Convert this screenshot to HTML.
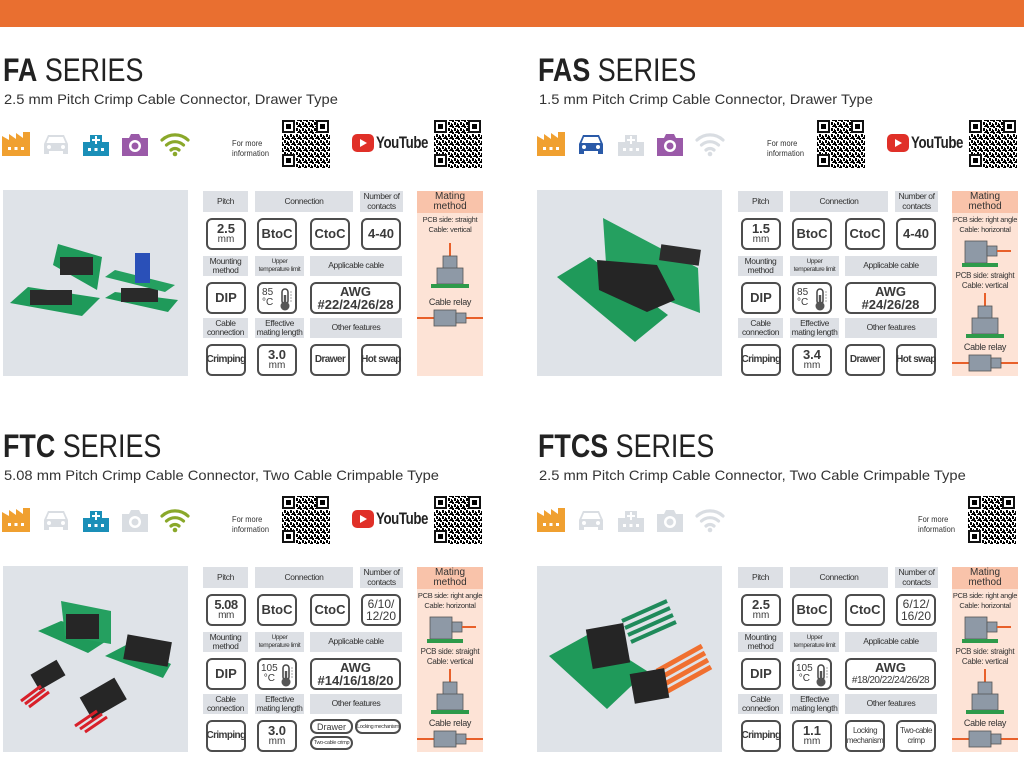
<!DOCTYPE html>
<html><head><meta charset="utf-8">
<style>
*{margin:0;padding:0}
body{width:1024px;height:753px;position:relative;background:#fff;font-family:"Liberation Sans",sans-serif;color:#333;overflow:hidden}
.bar{position:absolute;left:0;top:0;width:1024px;height:27px;background:#e96f30}
.p{position:absolute;width:490px;height:376px}
.a{position:absolute}
.t{position:absolute;left:3px;top:52px;font-size:32px;color:#222;white-space:nowrap;transform:scaleX(.84);transform-origin:left}
.t b{font-weight:bold}
.s{position:absolute;left:4px;top:91px;font-size:14px;color:#333;white-space:nowrap;transform:scaleX(1.05);transform-origin:left}
.ic{position:absolute;top:130px;width:30px;height:28px}
.fm{position:absolute;font-size:8.5px;line-height:10px;color:#333;transform:scaleX(.88);transform-origin:left}
.qr{position:absolute;width:48px;height:48px}
.img{position:absolute;left:3px;top:190px;width:185px;height:186px;background:#dfe3e8}
.h{position:absolute;background:#dde0e5;display:flex;align-items:center;justify-content:center;text-align:center;font-size:8.5px;line-height:9.5px;color:#333;letter-spacing:-0.4px;white-space:nowrap}
.v{position:absolute;border:2px solid #4d4d4d;border-radius:6px;box-sizing:border-box;display:flex;flex-direction:column;align-items:center;justify-content:center;text-align:center;font-weight:bold;font-size:13px;line-height:12px;color:#3a3a3a;background:#fff;white-space:nowrap}
.v small{font-size:10px;font-weight:normal;line-height:10px}
.cn{font-size:10px!important;letter-spacing:-0.6px}
.m{position:absolute;left:417px;top:191px;width:66px;height:185px;background:#fde3d6}
.mh{position:absolute;left:0;top:0;width:66px;height:22px;background:#f9c3aa;font-size:10px;line-height:10px;text-align:center;padding-top:1px;box-sizing:border-box}
.mt{position:absolute;left:0;width:66px;text-align:center;font-size:7.5px;line-height:10px;letter-spacing:-0.3px;white-space:nowrap}
.th{font-weight:normal!important;font-size:10px!important;align-items:flex-start!important;padding-left:3px;line-height:10px!important}
</style></head><body>
<svg width="0" height="0" style="position:absolute">
<defs>
<symbol id="fac" viewBox="0 0 30 28"><path d="M1 26V6l7 4V4l7 5V3l7 5V2h7v24z" fill="currentColor"/><rect x="7" y="17" width="3" height="3" fill="#fff"/><rect x="13.5" y="17" width="3" height="3" fill="#fff"/><rect x="20" y="17" width="3" height="3" fill="#fff"/></symbol>
<symbol id="car" viewBox="0 0 30 28"><path d="M3 14l4-9h16l4 9v10h-5v-3H8v3H3z" fill="currentColor"/><path d="M8 7h14l2.5 6h-19z" fill="#fff"/><circle cx="8" cy="17" r="2" fill="#fff"/><circle cx="22" cy="17" r="2" fill="#fff"/></symbol>
<symbol id="hos" viewBox="0 0 30 28"><path d="M2 26V12h7V5h12v7h7v14z" fill="currentColor"/><path d="M14 6h2v3h3v2h-3v3h-2v-3h-3V9h3z" fill="#fff"/><rect x="7" y="18" width="3" height="3" fill="#fff"/><rect x="13.5" y="18" width="3" height="3" fill="#fff"/><rect x="20" y="18" width="3" height="3" fill="#fff"/></symbol>
<symbol id="cam" viewBox="0 0 30 28"><path d="M2 8h7l2-4h8l2 4h7v18H2z" fill="currentColor"/><circle cx="15" cy="16" r="6" fill="#fff"/><circle cx="15" cy="16" r="3.5" fill="currentColor"/></symbol>
<symbol id="wif" viewBox="0 0 30 28"><g fill="none" stroke="currentColor" stroke-width="3.2" stroke-linecap="round"><path d="M2 10a19 19 0 0 1 26 0"/><path d="M6.5 15a12.5 12.5 0 0 1 17 0"/><path d="M11 20a6 6 0 0 1 8 0"/></g><circle cx="15" cy="24" r="2.3" fill="currentColor"/></symbol>
<pattern id="qp" width="6" height="6" patternUnits="userSpaceOnUse"><rect width="6" height="6" fill="#fff"/><rect x="0" y="0" width="2" height="2"/><rect x="3" y="0" width="3" height="1"/><rect x="2" y="2" width="2" height="3"/><rect x="5" y="3" width="1" height="2"/><rect x="0" y="4" width="1" height="2"/><rect x="4" y="5" width="2" height="1"/></pattern>
<symbol id="qr" viewBox="0 0 48 48"><rect width="48" height="48" fill="url(#qp)"/><g fill="#fff"><rect x="0" y="0" width="14" height="14"/><rect x="34" y="0" width="14" height="14"/><rect x="0" y="34" width="14" height="14"/></g><g fill="none" stroke="#111" stroke-width="2"><rect x="1" y="1" width="11" height="11"/><rect x="35" y="1" width="11" height="11"/><rect x="1" y="35" width="11" height="11"/></g><rect x="4" y="4" width="5" height="5"/><rect x="38" y="4" width="5" height="5"/><rect x="4" y="38" width="5" height="5"/></symbol>
<symbol id="therm" viewBox="0 0 14 24"><rect x="3" y="1" width="6" height="15" rx="3" fill="none" stroke="#444" stroke-width="1.5"/><circle cx="6" cy="18" r="4.5" fill="#555"/><rect x="4.8" y="7" width="2.4" height="10" fill="#555"/><path d="M11 4h2M11 7h2M11 10h2M11 13h2" stroke="#888" stroke-width="0.8"/></symbol>
<symbol id="ms" viewBox="0 0 66 52"><path d="M33 0v14" stroke="#e8602a" stroke-width="2"/><rect x="26" y="13" width="14" height="13" fill="#8e99a6" stroke="#555" stroke-width="0.8"/><rect x="20" y="25" width="26" height="16" fill="#8e99a6" stroke="#555" stroke-width="0.8"/><rect x="14" y="41" width="38" height="4" fill="#2e9a4a"/></symbol>
<symbol id="mr" viewBox="0 0 66 34"><rect x="13" y="4" width="22" height="22" fill="#8e99a6" stroke="#555" stroke-width="0.8"/><rect x="35" y="9" width="10" height="10" fill="#8e99a6" stroke="#555" stroke-width="0.8"/><path d="M45 14h14" stroke="#e8602a" stroke-width="2"/><rect x="10" y="26" width="36" height="4" fill="#2e9a4a"/></symbol>
<symbol id="mc" viewBox="0 0 66 18"><path d="M0 9h66" stroke="#e8602a" stroke-width="2"/><rect x="17" y="1" width="22" height="16" fill="#8e99a6" stroke="#555" stroke-width="0.8"/><rect x="39" y="4" width="10" height="10" fill="#8e99a6" stroke="#555" stroke-width="0.8"/></symbol>
</defs></svg>

<div class="bar"></div>

<!-- ================= FA ================= -->
<div class="p" style="left:0;top:0">
<div class="t"><b>FA</b> SERIES</div>
<div class="s">2.5 mm Pitch Crimp Cable Connector, Drawer Type</div>
<svg class="ic" style="left:1px;color:#f0a030"><use href="#fac"/></svg>
<svg class="ic" style="left:41px;color:#d9dde2"><use href="#car"/></svg>
<svg class="ic" style="left:81px;color:#1a8fb8"><use href="#hos"/></svg>
<svg class="ic" style="left:120px;color:#9a5aa8"><use href="#cam"/></svg>
<svg class="ic" style="left:160px;color:#8aa82a"><use href="#wif"/></svg>
<div class="fm" style="left:232px;top:138px">For more<br>information</div>
<svg class="qr" style="left:282px;top:120px"><use href="#qr"/></svg>
<div class="a" style="left:352px;top:134px;width:22px;height:18px;background:#e03028;border-radius:5px"></div>
<div class="a" style="left:360px;top:139px;width:0;height:0;border-left:7px solid #fff;border-top:4px solid transparent;border-bottom:4px solid transparent"></div>
<div class="a" style="left:376px;top:133px;font-size:17px;font-weight:bold;color:#222;transform:scaleX(.78);transform-origin:left;letter-spacing:-0.5px">YouTube</div>
<svg class="qr" style="left:434px;top:120px"><use href="#qr"/></svg>
<div class="img"><svg width="185" height="186">
<polygon points="7,113 25,97 97,108 79,126" fill="#1f9a5a"/><rect x="27" y="100" width="42" height="15" fill="#2a2a2a"/>
<polygon points="50,75 55,54 99,67 94,100" fill="#1f9a5a"/><rect x="57" y="67" width="33" height="18" fill="#2a2a2a"/>
<polygon points="102,108 112,102 175,110 165,122" fill="#1f9a5a"/><rect x="118" y="98" width="37" height="14" fill="#2a2a2a"/>
<polygon points="102,87 112,80 172,95 162,102" fill="#25a060"/><rect x="132" y="63" width="15" height="30" fill="#2a50b8"/>
</svg></div>
<div class="h" style="left:203px;top:191px;width:45px;height:21px">Pitch</div>
<div class="h" style="left:255px;top:191px;width:98px;height:21px">Connection</div>
<div class="h" style="left:360px;top:191px;width:43px;height:21px">Number of<br>contacts</div>
<div class="v" style="left:206px;top:218px;width:40px;height:32px">2.5<small>mm</small></div>
<div class="v" style="left:257px;top:218px;width:40px;height:32px">BtoC</div>
<div class="v" style="left:310px;top:218px;width:40px;height:32px">CtoC</div>
<div class="v" style="left:361px;top:218px;width:40px;height:32px">4-40</div>
<div class="h" style="left:203px;top:256px;width:45px;height:20px">Mounting<br>method</div>
<div class="h" style="left:255px;top:256px;width:49px;height:20px;font-size:6.5px;line-height:8px">Upper<br>temperature limit</div>
<div class="h" style="left:310px;top:256px;width:92px;height:20px">Applicable cable</div>
<div class="v" style="left:206px;top:282px;width:40px;height:32px">DIP</div>
<div class="v th" style="left:257px;top:282px;width:40px;height:32px">85<br>°C<svg style="position:absolute;left:20px;top:4px" width="14" height="24"><use href="#therm"/></svg></div>
<div class="v" style="left:310px;top:282px;width:91px;height:32px;line-height:13px">AWG<br>#22/24/26/28</div>
<div class="h" style="left:203px;top:318px;width:45px;height:20px">Cable<br>connection</div>
<div class="h" style="left:255px;top:318px;width:49px;height:20px">Effective<br>mating length</div>
<div class="h" style="left:310px;top:318px;width:92px;height:20px">Other features</div>
<div class="v cn" style="left:206px;top:344px;width:40px;height:32px">Crimping</div>
<div class="v" style="left:257px;top:344px;width:40px;height:32px">3.0<small>mm</small></div>
<div class="v cn" style="left:310px;top:344px;width:40px;height:32px">Drawer</div>
<div class="v cn" style="left:361px;top:344px;width:40px;height:32px">Hot swap</div>
<div class="m"><div class="mh">Mating<br>method</div>
<div class="mt" style="top:24px">PCB side: straight<br>Cable: vertical</div>
<svg class="a" style="left:0;top:52px" width="66" height="52"><use href="#ms"/></svg>
<div class="mt" style="top:106px;font-size:9px">Cable relay</div>
<svg class="a" style="left:0;top:118px" width="66" height="18"><use href="#mc"/></svg>
</div>
</div>

<!-- ================= FAS ================= -->
<div class="p" style="left:535px;top:0">
<div class="t"><b>FAS</b> SERIES</div>
<div class="s">1.5 mm Pitch Crimp Cable Connector, Drawer Type</div>
<svg class="ic" style="left:1px;color:#f0a030"><use href="#fac"/></svg>
<svg class="ic" style="left:41px;color:#2a5aa8"><use href="#car"/></svg>
<svg class="ic" style="left:81px;color:#d9dde2"><use href="#hos"/></svg>
<svg class="ic" style="left:120px;color:#9a5aa8"><use href="#cam"/></svg>
<svg class="ic" style="left:160px;color:#d9dde2"><use href="#wif"/></svg>
<div class="fm" style="left:232px;top:138px">For more<br>information</div>
<svg class="qr" style="left:282px;top:120px"><use href="#qr"/></svg>
<div class="a" style="left:352px;top:134px;width:22px;height:18px;background:#e03028;border-radius:5px"></div>
<div class="a" style="left:360px;top:139px;width:0;height:0;border-left:7px solid #fff;border-top:4px solid transparent;border-bottom:4px solid transparent"></div>
<div class="a" style="left:376px;top:133px;font-size:17px;font-weight:bold;color:#222;transform:scaleX(.78);transform-origin:left;letter-spacing:-0.5px">YouTube</div>
<svg class="qr" style="left:434px;top:120px"><use href="#qr"/></svg>
<div class="img" style="left:2px"><svg width="185" height="186">
<polygon points="20,87 53,67 131,125 98,152" fill="#1f9a5a"/>
<polygon points="66,28 161,78 163,123 70,88" fill="#25a060"/>
<rect x="123" y="57" width="40" height="16" fill="#2c2c2c" transform="rotate(8 143 65)"/>
<polygon points="60,70 120,75 138,110 110,122 62,100" fill="#252525"/>
</svg></div>
<div class="h" style="left:203px;top:191px;width:45px;height:21px">Pitch</div>
<div class="h" style="left:255px;top:191px;width:98px;height:21px">Connection</div>
<div class="h" style="left:360px;top:191px;width:43px;height:21px">Number of<br>contacts</div>
<div class="v" style="left:206px;top:218px;width:40px;height:32px">1.5<small>mm</small></div>
<div class="v" style="left:257px;top:218px;width:40px;height:32px">BtoC</div>
<div class="v" style="left:310px;top:218px;width:40px;height:32px">CtoC</div>
<div class="v" style="left:361px;top:218px;width:40px;height:32px">4-40</div>
<div class="h" style="left:203px;top:256px;width:45px;height:20px">Mounting<br>method</div>
<div class="h" style="left:255px;top:256px;width:49px;height:20px;font-size:6.5px;line-height:8px">Upper<br>temperature limit</div>
<div class="h" style="left:310px;top:256px;width:92px;height:20px">Applicable cable</div>
<div class="v" style="left:206px;top:282px;width:40px;height:32px">DIP</div>
<div class="v th" style="left:257px;top:282px;width:40px;height:32px">85<br>°C<svg style="position:absolute;left:20px;top:4px" width="14" height="24"><use href="#therm"/></svg></div>
<div class="v" style="left:310px;top:282px;width:91px;height:32px;line-height:13px">AWG<br>#24/26/28</div>
<div class="h" style="left:203px;top:318px;width:45px;height:20px">Cable<br>connection</div>
<div class="h" style="left:255px;top:318px;width:49px;height:20px">Effective<br>mating length</div>
<div class="h" style="left:310px;top:318px;width:92px;height:20px">Other features</div>
<div class="v cn" style="left:206px;top:344px;width:40px;height:32px">Crimping</div>
<div class="v" style="left:257px;top:344px;width:40px;height:32px">3.4<small>mm</small></div>
<div class="v cn" style="left:310px;top:344px;width:40px;height:32px">Drawer</div>
<div class="v cn" style="left:361px;top:344px;width:40px;height:32px">Hot swap</div>
<div class="m"><div class="mh">Mating<br>method</div>
<div class="mt" style="top:24px">PCB side: right angle<br>Cable: horizontal</div>
<svg class="a" style="left:0;top:46px" width="66" height="34"><use href="#mr"/></svg>
<div class="mt" style="top:80px;font-size:8px">PCB side: straight<br>Cable: vertical</div>
<svg class="a" style="left:0;top:102px" width="66" height="52"><use href="#ms"/></svg>
<div class="mt" style="top:151px;font-size:9px">Cable relay</div>
<svg class="a" style="left:0;top:163px" width="66" height="18"><use href="#mc"/></svg>
</div>
</div>

<!-- ================= FTC ================= -->
<div class="p" style="left:0;top:376px">
<div class="t"><b>FTC</b> SERIES</div>
<div class="s">5.08 mm Pitch Crimp Cable Connector, Two Cable Crimpable Type</div>
<svg class="ic" style="left:1px;color:#f0a030"><use href="#fac"/></svg>
<svg class="ic" style="left:41px;color:#d9dde2"><use href="#car"/></svg>
<svg class="ic" style="left:81px;color:#1a8fb8"><use href="#hos"/></svg>
<svg class="ic" style="left:120px;color:#d9dde2"><use href="#cam"/></svg>
<svg class="ic" style="left:160px;color:#8aa82a"><use href="#wif"/></svg>
<div class="fm" style="left:232px;top:138px">For more<br>information</div>
<svg class="qr" style="left:282px;top:120px"><use href="#qr"/></svg>
<div class="a" style="left:352px;top:134px;width:22px;height:18px;background:#e03028;border-radius:5px"></div>
<div class="a" style="left:360px;top:139px;width:0;height:0;border-left:7px solid #fff;border-top:4px solid transparent;border-bottom:4px solid transparent"></div>
<div class="a" style="left:376px;top:133px;font-size:17px;font-weight:bold;color:#222;transform:scaleX(.78);transform-origin:left;letter-spacing:-0.5px">YouTube</div>
<svg class="qr" style="left:434px;top:120px"><use href="#qr"/></svg>
<div class="img"><svg width="185" height="186">
<polygon points="35,65 58,55 108,68 108,72 85,87" fill="#1f9a5a"/><polygon points="58,35 108,45 108,78 62,70" fill="#25a060"/>
<rect x="63" y="48" width="33" height="25" fill="#262626"/>
<polygon points="102,90 125,78 168,98 160,112" fill="#1f9a5a"/><rect x="122" y="72" width="45" height="25" fill="#262626" transform="rotate(10 144 85)"/>
<rect x="30" y="100" width="30" height="18" fill="#262626" transform="rotate(-30 45 109)"/>
<path d="M18 135l20-15M22 138l20-15M26 141l20-15" stroke="#d8202a" stroke-width="3"/>
<rect x="80" y="120" width="40" height="25" fill="#262626" transform="rotate(-30 100 132)"/>
<path d="M72 160l22-15M77 163l22-15M82 166l22-15" stroke="#d8202a" stroke-width="3"/>
</svg></div>
<div class="h" style="left:203px;top:191px;width:45px;height:21px">Pitch</div>
<div class="h" style="left:255px;top:191px;width:98px;height:21px">Connection</div>
<div class="h" style="left:360px;top:191px;width:43px;height:21px">Number of<br>contacts</div>
<div class="v" style="left:206px;top:218px;width:40px;height:32px;letter-spacing:-0.5px">5.08<small>mm</small></div>
<div class="v" style="left:257px;top:218px;width:40px;height:32px">BtoC</div>
<div class="v" style="left:310px;top:218px;width:40px;height:32px">CtoC</div>
<div class="v" style="left:361px;top:218px;width:40px;height:32px;font-weight:normal;font-size:12px">6/10/<br>12/20</div>
<div class="h" style="left:203px;top:256px;width:45px;height:20px">Mounting<br>method</div>
<div class="h" style="left:255px;top:256px;width:49px;height:20px;font-size:6.5px;line-height:8px">Upper<br>temperature limit</div>
<div class="h" style="left:310px;top:256px;width:92px;height:20px">Applicable cable</div>
<div class="v" style="left:206px;top:282px;width:40px;height:32px">DIP</div>
<div class="v th" style="left:257px;top:282px;width:40px;height:32px;padding-left:2px">105<br>°C<svg style="position:absolute;left:21px;top:4px" width="14" height="24"><use href="#therm"/></svg></div>
<div class="v" style="left:310px;top:282px;width:91px;height:32px;line-height:13px">AWG<br>#14/16/18/20</div>
<div class="h" style="left:203px;top:318px;width:45px;height:20px">Cable<br>connection</div>
<div class="h" style="left:255px;top:318px;width:49px;height:20px">Effective<br>mating length</div>
<div class="h" style="left:310px;top:318px;width:92px;height:20px">Other features</div>
<div class="v cn" style="left:206px;top:344px;width:40px;height:32px">Crimping</div>
<div class="v" style="left:257px;top:344px;width:40px;height:32px">3.0<small>mm</small></div>
<div class="v" style="left:310px;top:343px;width:43px;height:15px;font-size:9px;font-weight:normal;border-radius:7px">Drawer</div>
<div class="v" style="left:355px;top:343px;width:46px;height:15px;font-size:5.5px;font-weight:normal;border-radius:7px;letter-spacing:-0.4px">Locking mechanism</div>
<div class="v" style="left:310px;top:360px;width:43px;height:14px;font-size:5.5px;font-weight:normal;border-radius:7px;letter-spacing:-0.3px">Two-cable crimp</div>
<div class="m"><div class="mh">Mating<br>method</div>
<div class="mt" style="top:24px">PCB side: right angle<br>Cable: horizontal</div>
<svg class="a" style="left:0;top:46px" width="66" height="34"><use href="#mr"/></svg>
<div class="mt" style="top:80px;font-size:8px">PCB side: straight<br>Cable: vertical</div>
<svg class="a" style="left:0;top:102px" width="66" height="52"><use href="#ms"/></svg>
<div class="mt" style="top:151px;font-size:9px">Cable relay</div>
<svg class="a" style="left:0;top:163px" width="66" height="18"><use href="#mc"/></svg>
</div>
</div>

<!-- ================= FTCS ================= -->
<div class="p" style="left:535px;top:376px">
<div class="t"><b>FTCS</b> SERIES</div>
<div class="s">2.5 mm Pitch Crimp Cable Connector, Two Cable Crimpable Type</div>
<svg class="ic" style="left:1px;color:#f0a030"><use href="#fac"/></svg>
<svg class="ic" style="left:41px;color:#d9dde2"><use href="#car"/></svg>
<svg class="ic" style="left:81px;color:#d9dde2"><use href="#hos"/></svg>
<svg class="ic" style="left:120px;color:#d9dde2"><use href="#cam"/></svg>
<svg class="ic" style="left:160px;color:#d9dde2"><use href="#wif"/></svg>
<div class="fm" style="left:383px;top:138px">For more<br>information</div>
<svg class="qr" style="left:433px;top:120px"><use href="#qr"/></svg>
<div class="img" style="left:2px"><svg width="185" height="186">
<polygon points="12,90 52,68 110,105 70,143" fill="#1f9a5a"/>
<path d="M85,55l45,-20M88,62l45,-20M91,69l45,-20M94,76l45,-20" stroke="#1f8a5a" stroke-width="4"/>
<rect x="52" y="60" width="38" height="40" fill="#252525" transform="rotate(-10 71 80)"/>
<path d="M120,105l45,-25M123,112l45,-25M126,119l45,-25M129,126l45,-25" stroke="#f07030" stroke-width="5"/>
<rect x="95" y="105" width="35" height="30" fill="#252525" transform="rotate(-10 112 120)"/>
</svg></div>
<div class="h" style="left:203px;top:191px;width:45px;height:21px">Pitch</div>
<div class="h" style="left:255px;top:191px;width:98px;height:21px">Connection</div>
<div class="h" style="left:360px;top:191px;width:43px;height:21px">Number of<br>contacts</div>
<div class="v" style="left:206px;top:218px;width:40px;height:32px">2.5<small>mm</small></div>
<div class="v" style="left:257px;top:218px;width:40px;height:32px">BtoC</div>
<div class="v" style="left:310px;top:218px;width:40px;height:32px">CtoC</div>
<div class="v" style="left:361px;top:218px;width:40px;height:32px;font-weight:normal;font-size:12px">6/12/<br>16/20</div>
<div class="h" style="left:203px;top:256px;width:45px;height:20px">Mounting<br>method</div>
<div class="h" style="left:255px;top:256px;width:49px;height:20px;font-size:6.5px;line-height:8px">Upper<br>temperature limit</div>
<div class="h" style="left:310px;top:256px;width:92px;height:20px">Applicable cable</div>
<div class="v" style="left:206px;top:282px;width:40px;height:32px">DIP</div>
<div class="v th" style="left:257px;top:282px;width:40px;height:32px;padding-left:2px">105<br>°C<svg style="position:absolute;left:21px;top:4px" width="14" height="24"><use href="#therm"/></svg></div>
<div class="v" style="left:310px;top:282px;width:91px;height:32px;line-height:13px">AWG<span style="font-weight:normal;font-size:10px;letter-spacing:-0.5px">#18/20/22/24/26/28</span></div>
<div class="h" style="left:203px;top:318px;width:45px;height:20px">Cable<br>connection</div>
<div class="h" style="left:255px;top:318px;width:49px;height:20px">Effective<br>mating length</div>
<div class="h" style="left:310px;top:318px;width:92px;height:20px">Other features</div>
<div class="v cn" style="left:206px;top:344px;width:40px;height:32px">Crimping</div>
<div class="v" style="left:257px;top:344px;width:40px;height:32px">1.1<small>mm</small></div>
<div class="v" style="left:310px;top:344px;width:40px;height:32px;font-size:8px;font-weight:normal;line-height:10px;letter-spacing:-0.5px">Locking<br>mechanism</div>
<div class="v" style="left:361px;top:344px;width:40px;height:32px;font-size:8px;font-weight:normal;line-height:10px;letter-spacing:-0.5px">Two-cable<br>crimp</div>
<div class="m"><div class="mh">Mating<br>method</div>
<div class="mt" style="top:24px">PCB side: right angle<br>Cable: horizontal</div>
<svg class="a" style="left:0;top:46px" width="66" height="34"><use href="#mr"/></svg>
<div class="mt" style="top:80px;font-size:8px">PCB side: straight<br>Cable: vertical</div>
<svg class="a" style="left:0;top:102px" width="66" height="52"><use href="#ms"/></svg>
<div class="mt" style="top:151px;font-size:9px">Cable relay</div>
<svg class="a" style="left:0;top:163px" width="66" height="18"><use href="#mc"/></svg>
</div>
</div>
</body></html>
